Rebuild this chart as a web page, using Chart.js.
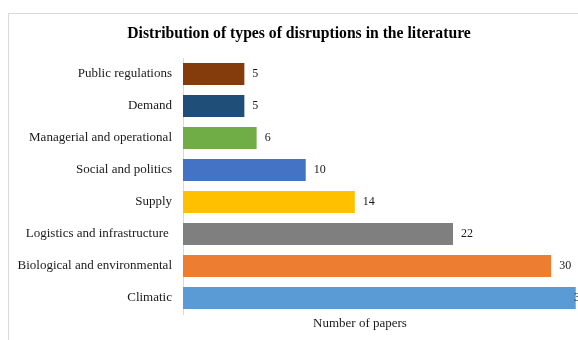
<!DOCTYPE html>
<html>
<head>
<meta charset="utf-8">
<script src="https://cdn.jsdelivr.net/npm/chart.js@4.4.1/dist/chart.umd.min.js"></script>
<style>
    html, body { margin: 0; padding: 0; background: #fff; overflow: hidden; width: 578px; height: 340px; }
    #frame { position: absolute; left: 8px; top: 13px; width: 640px; height: 400px; border: 1px solid #d9d9d9; }
    #chart { position: absolute; left: 0; top: 0; }
</style>
</head>
<body>
<div id="frame"></div>
<canvas id="chart" width="598" height="340"></canvas>
<script>
const categories = ['Public regulations', 'Demand', 'Managerial and operational', 'Social and politics',
    'Supply', 'Logistics and infrastructure ', 'Biological and environmental', 'Climatic'];
const papers = [5, 5, 6, 10, 14, 22, 30, 32];
const colors = ['#843C0C', '#1F4E79', '#70AD47', '#4472C4', '#FFC000', '#7F7F7F', '#ED7D31', '#5B9BD5'];

const chartTitle = 'Distribution of types of disruptions in the literature';
const axisTitle = 'Number of papers';
const serif = '"Liberation Serif", "Times New Roman", serif';

// titles and value labels
const textPlugin = {
    id: 'texts',
    afterDatasetsDraw(chart) {
        let ctx = chart.ctx;
        let area = chart.chartArea;
        ctx.save();
        ctx.fillStyle = '#000';
        ctx.font = 'bold 15.7px ' + serif;
        ctx.textAlign = 'center';
        ctx.textBaseline = 'middle';
        ctx.fillText(chartTitle, chart.width / 2, 34);

        ctx.fillStyle = '#1a1a1a';
        ctx.font = '13px ' + serif;
        ctx.fillText(axisTitle, area.left + 177, 324);

        ctx.font = '12px ' + serif;
        ctx.textAlign = 'left';
        let meta = chart.getDatasetMeta(0);
        meta.data.forEach((bar, i) => {
            // label is pushed back when it would leave the plot area
            let x = Math.min(bar.x + 8, area.right - 14);
            ctx.fillText(String(papers[i]), x, bar.y);
        });
        ctx.restore();
    }
};

new Chart(document.getElementById('chart'), {
    type: 'bar',
    data: {
        labels: categories,
        datasets: [{
            data: papers,
            backgroundColor: colors,
            barPercentage: 0.69,
            categoryPercentage: 1
        }]
    },
    options: {
        indexAxis: 'y',
        responsive: false,
        animation: false,
        layout: {padding: {top: 58, bottom: 26, left: 8, right: 10}},
        plugins: {
            legend: {display: false},
            tooltip: {enabled: false}
        },
        scales: {
            x: {
                display: false,
                min: 0,
                max: 33
            },
            y: {
                grid: {display: false},
                border: {display: true, color: '#d9d9d9', width: 1},
                ticks: {
                    color: '#1a1a1a',
                    padding: 3,
                    font: {family: serif, size: 13}
                },
                afterFit: (scale) => { scale.width = 175; }
            }
        }
    },
    plugins: [textPlugin]
});
</script>
</body>
</html>
